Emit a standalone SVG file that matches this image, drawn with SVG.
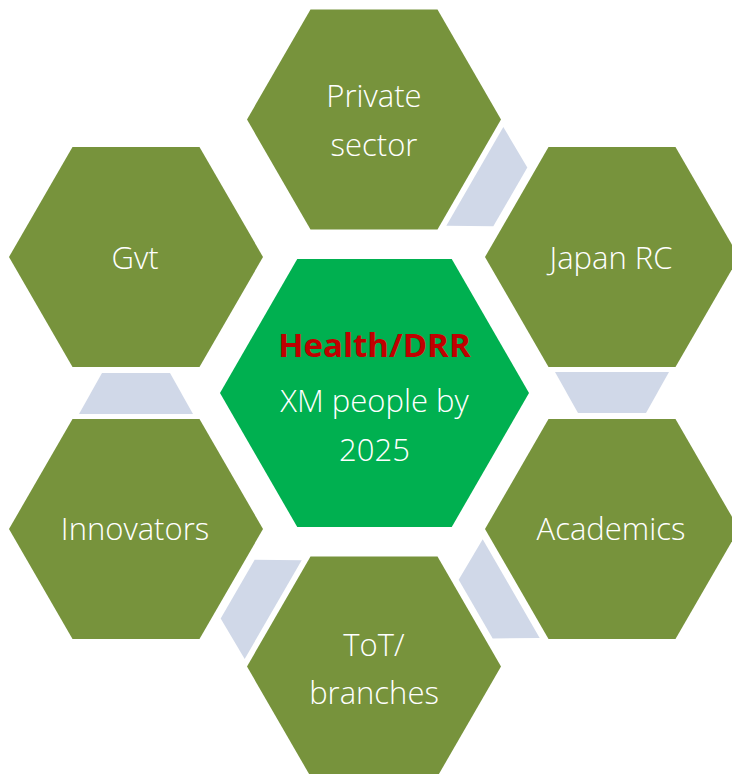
<svg xmlns="http://www.w3.org/2000/svg" width="732" height="774" viewBox="0 0 732 774">
  <defs>
    <style>
      .hex { fill: #77933C; }
      .hexc { fill: #00B050; }
      .arr { fill: #D0D8E8; }
      .t { font-family: "Open Sans", "Noto Sans", "Liberation Sans", sans-serif; font-size: 31px; font-weight: 300; fill: #FFFFFF; text-anchor: middle; }
      .h { font-family: "Open Sans", "Noto Sans", "Liberation Sans", sans-serif; font-size: 33px; font-weight: bold; fill: #C00000; text-anchor: middle; }
    </style>
    <polygon id="hx" points="-127,0 -63.5,-110 63.5,-110 127,0 63.5,110 -63.5,110"/>
    <polygon id="ar" points="555,372 669,372 646,413 578,413"/>
  </defs>
  <rect width="732" height="774" fill="#FFFFFF"/>
  <g id="connectors">
    <use href="#ar" class="arr" transform="rotate(-60 374 393)"/>
    <use href="#ar" class="arr"/>
    <use href="#ar" class="arr" transform="rotate(60 374 393)"/>
    <use href="#ar" class="arr" transform="rotate(120 374 393)"/>
    <use href="#ar" class="arr" transform="rotate(180 374 393)"/>
  </g>
  <g id="center">
    <polygon class="hexc" points="220,393 297.25,259 451.75,259 529,393 451.75,527 297.25,527"/>
    <text class="h" x="374.5" y="357">Health/DRR</text>
    <text class="t" x="374.5" y="412">XM people by</text>
    <text class="t" x="374.5" y="461">2025</text>
  </g>
  <g id="private-sector">
    <use href="#hx" class="hex" transform="translate(374 119.5)"/>
    <text class="t" x="374" y="107">Private</text>
    <text class="t" x="374" y="156">sector</text>
  </g>
  <g id="japan-rc">
    <use href="#hx" class="hex" transform="translate(612 257)"/>
    <text class="t" x="611" y="269">Japan RC</text>
  </g>
  <g id="academics">
    <use href="#hx" class="hex" transform="translate(612 529)"/>
    <text class="t" x="611" y="540">Academics</text>
  </g>
  <g id="tot-branches">
    <use href="#hx" class="hex" transform="translate(374 666.5)"/>
    <text class="t" x="374" y="656">ToT/</text>
    <text class="t" x="374" y="704">branches</text>
  </g>
  <g id="innovators">
    <use href="#hx" class="hex" transform="translate(136 529)"/>
    <text class="t" x="135" y="540">Innovators</text>
  </g>
  <g id="gvt">
    <use href="#hx" class="hex" transform="translate(136 257)"/>
    <text class="t" x="135" y="269">Gvt</text>
  </g>
</svg>
